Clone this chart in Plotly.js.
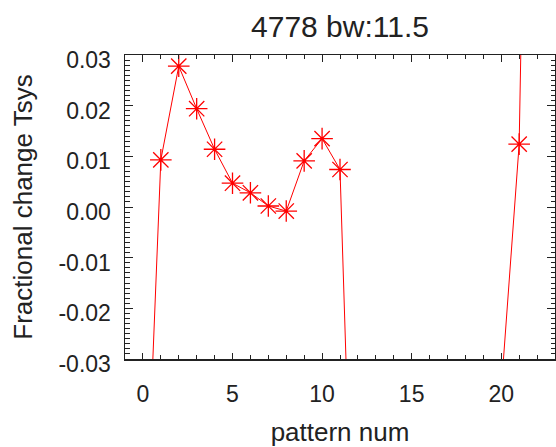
<!DOCTYPE html>
<html>
<head>
<meta charset="utf-8">
<script src="https://cdn.plot.ly/plotly-3.0.1.min.js"></script>
<style>html,body{margin:0;padding:0;background:#fff;}#chart{width:556px;height:447px;}</style>
</head>
<body>
<div id="chart"></div>
<script>
// pattern numbers and fractional change in Tsys (points 0, 12-20, 22 lie off the plotted range)
const patternNum = [0, 1, 2, 3, 4, 5, 6, 7, 8, 9, 10, 11, 12, 13, 14, 15, 16, 17, 18, 19, 20, 21, 22];
const fracChange = [-0.079, 0.0093, 0.0278, 0.0194, 0.0114, 0.0047, 0.0028, 0.0002, -0.0008, 0.0091, 0.0135, 0.0074,
                    -0.105, -0.10, -0.10, -0.10, -0.10, -0.10, -0.10, -0.10, -0.036, 0.0124, 0.21];
const yTickVals = [-0.03, -0.02, -0.01, 0.00, 0.01, 0.02, 0.03];
const yTickText = ['-0.03', '-0.02', '-0.01', '0.00', '0.01', '0.02', '0.03'];
const xTickVals = [0, 5, 10, 15, 20];
const xTickText = ['0', '5', '10', '15', '20'];
const xRange = [-1, 23];
const yRange = [-0.03, 0.03];

const FONT = 'Liberation Sans, Arial, Helvetica, sans-serif';
const AX = '#222';

const trace = {
  x: patternNum, y: fracChange, type: 'scatter', mode: 'lines+markers',
  line: {color: 'red', width: 1},
  marker: {symbol: 'asterisk-open', size: 18, color: 'red', line: {color: 'red', width: 1.3}},
  cliponaxis: true
};
// empty trace so the mirrored top/right axes (ticks only) are drawn
const frame = {x: [], y: [], xaxis: 'x2', yaxis: 'y2', type: 'scatter', mode: 'lines', hoverinfo: 'skip', showlegend: false};

const xMinor = {dtick: 1, ticks: 'inside', ticklen: 4, tickwidth: 1, tickcolor: AX, showgrid: false};
const yMinor = {dtick: 0.001, ticks: 'inside', ticklen: 4.5, tickwidth: 1, tickcolor: AX, showgrid: false};

const layout = {
  width: 556, height: 447,
  margin: {l: 125, r: 1, t: 55, b: 88},
  paper_bgcolor: '#fff', plot_bgcolor: '#fff',
  showlegend: false,
  font: {family: FONT, color: AX, size: 23},
  title: {text: '4778 bw:11.5', font: {family: FONT, size: 30, color: AX},
          x: 0.5, xref: 'paper', xanchor: 'center', y: 1 - 26/447, yref: 'container', yanchor: 'middle'},
  xaxis: {
    range: xRange, showgrid: false, zeroline: false,
    showline: true, linecolor: AX, linewidth: 1.5, mirror: false,
    ticks: 'inside', ticklen: 6.5, tickwidth: 1, tickcolor: AX,
    tickvals: xTickVals, ticktext: xTickText,
    tickfont: {size: 23, family: FONT, color: AX},
    ticklabelstandoff: 14,
    minor: xMinor,
    title: {text: 'pattern num', font: {size: 26, family: FONT, color: AX}, standoff: 28}
  },
  yaxis: {
    range: yRange, showgrid: false, zeroline: false,
    showline: true, linecolor: AX, linewidth: 1.5, mirror: false,
    ticks: 'inside', ticklen: 8, tickwidth: 1, tickcolor: AX,
    tickvals: yTickVals, ticktext: yTickText,
    tickfont: {size: 23, family: FONT, color: AX},
    ticklabelstandoff: 8, ticklabelshift: 5,
    minor: yMinor,
    title: {text: 'Fractional change Tsys', font: {size: 26, family: FONT, color: AX}, standoff: 18}
  },
  xaxis2: {
    range: xRange, overlaying: 'x', side: 'top', anchor: 'y2', showgrid: false, zeroline: false,
    showline: true, linecolor: AX, linewidth: 1.5,
    ticks: 'inside', ticklen: 6.5, tickwidth: 1, tickcolor: AX,
    tickvals: xTickVals, showticklabels: false, minor: xMinor
  },
  yaxis2: {
    range: yRange, overlaying: 'y', side: 'right', anchor: 'x2', showgrid: false, zeroline: false,
    showline: true, linecolor: AX, linewidth: 1.5,
    ticks: 'inside', ticklen: 8, tickwidth: 1, tickcolor: AX,
    tickvals: yTickVals, showticklabels: false, minor: yMinor
  }
};

Plotly.newPlot('chart', [trace, frame], layout, {staticPlot: true, displayModeBar: false});
</script>
</body>
</html>
